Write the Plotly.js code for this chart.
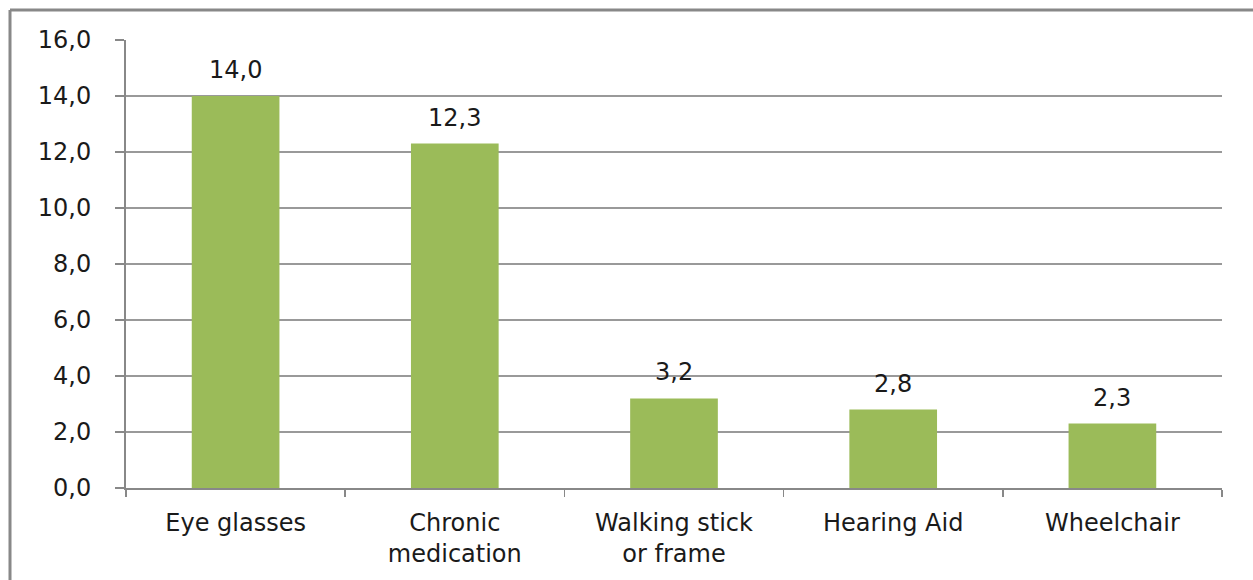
<!DOCTYPE html>
<html>
<head>
<meta charset="utf-8">
<script src="https://cdn.plot.ly/plotly-3.0.1.min.js"></script>
<style>html,body{margin:0;padding:0;background:#fff;}#chart{width:1253px;height:580px;}</style>
</head>
<body>
<div id="chart"></div>
<script>
const categories = ["Eye glasses", "Chronic<br>medication", "Walking stick<br>or frame", "Hearing Aid", "Wheelchair"];
const values = [14.0, 12.3, 3.2, 2.8, 2.3];
const valueLabels = ["14,0", "12,3", "3,2", "2,8", "2,3"];
const yTicks = [0, 2, 4, 6, 8, 10, 12, 14, 16];

const W = 1253, H = 580, L = 126, R = 31, T = 40, B = 92;
const pw = W - L - R, ph = H - T - B;
const fontFam = "'DejaVu Sans', sans-serif";
const fs = 24;
const txtColor = '#1a1a1a';

const trace = {
  type: 'bar',
  x: categories,
  y: values,
  marker: {color: '#9BBB59'},
  width: 0.4,
  hoverinfo: 'none'
};

const annotations = categories.map((c, i) => ({
  x: c, y: values[i], xref: 'x', yref: 'y',
  text: valueLabels[i], showarrow: false,
  yanchor: 'bottom', yshift: 10,
  font: {family: fontFam, size: fs, color: txtColor}
}));

const shapes = [
  {type: 'line', xref: 'paper', yref: 'paper', x0: (10 - L) / pw, x1: (W + 5 - L) / pw, y0: 1 + (T - 10) / ph, y1: 1 + (T - 10) / ph, line: {color: '#888', width: 3}},
  {type: 'line', xref: 'paper', yref: 'paper', x0: (10 - L) / pw, x1: (10 - L) / pw, y0: 1 + (T - 10) / ph, y1: -(B + 5) / ph, line: {color: '#888', width: 3}}
];

const layout = {
  width: W, height: H,
  margin: {l: L, r: R, t: T, b: B, pad: 0},
  paper_bgcolor: '#fff', plot_bgcolor: '#fff',
  separators: ',.',
  showlegend: false,
  bargap: 0.6,
  font: {family: fontFam, size: fs, color: txtColor},
  xaxis: {
    type: 'category',
    showline: true, linecolor: '#888', linewidth: 2,
    ticks: 'outside', ticklen: 7, tickcolor: '#888', tickwidth: 1.5,
    tickson: 'boundaries',
    ticklabelstandoff: 12,
    showgrid: false, zeroline: false,
    tickfont: {family: fontFam, size: fs, color: txtColor}
  },
  yaxis: {
    range: [0, 16],
    tickvals: yTicks,
    tickformat: '.1f',
    showline: true, linecolor: '#888', linewidth: 2,
    ticks: 'outside', ticklen: 9, tickcolor: '#888', tickwidth: 1.5,
    ticklabelstandoff: 19,
    showgrid: true, gridcolor: '#999', gridwidth: 1.5,
    zeroline: false,
    tickfont: {family: fontFam, size: fs, color: txtColor}
  },
  annotations: annotations,
  shapes: shapes
};

Plotly.newPlot('chart', [trace], layout, {displayModeBar: false, staticPlot: true});
</script>
</body>
</html>
